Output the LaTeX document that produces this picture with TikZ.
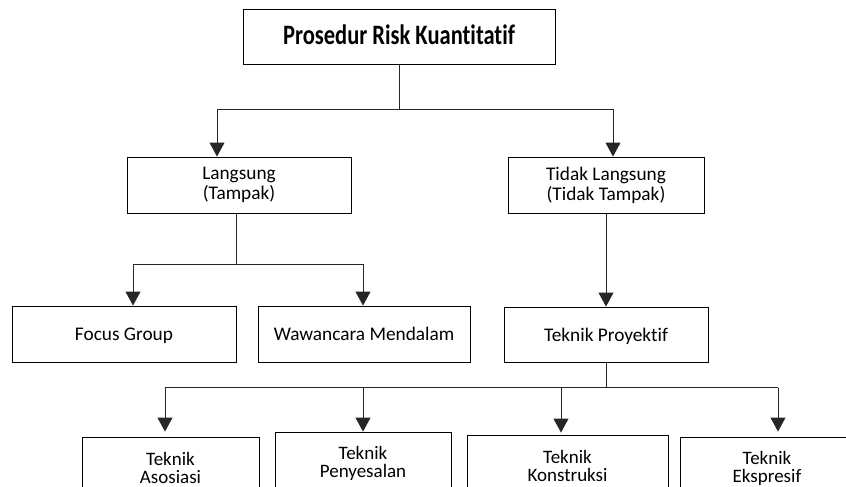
\documentclass[tikz,border=0pt]{standalone}
\usepackage{fontspec}
\setmainfont[Ligatures=NoCommon]{Carlito}
\usetikzlibrary{arrows.meta}

\newcommand{\tallbold}[1]{\scalebox{1}[1.25]{#1}}

\begin{document}
\begin{tikzpicture}[x=1pt,y=-1pt,
  box/.style={draw=black,line width=0.9pt,rectangle,inner sep=0pt,align=center,
    font=\fontsize{19.3}{20}\selectfont},
  oneline/.style={box,text height=13pt,text depth=0pt},
  lowbox/.style={box,font=\fontsize{19}{18}\selectfont},
  link/.style={draw=black!85,line width=0.9pt},
  arr/.style={link,-{Triangle[length=14pt,width=15pt]}},
]
\clip (0,0) rectangle (846,487);
\useasboundingbox (0,0) rectangle (846,487);

% level 0
\node[box,minimum width=312pt,minimum height=55pt,text height=17pt,text depth=0pt,
  font=\bfseries\fontsize{22.5}{24}\selectfont] (top) at (399,36.5) {\tallbold{Prosedur Risk Kuantitatif}};

% level 1
\node[box,minimum width=224pt,minimum height=56pt] (lang) at (239,185) {Langsung\\(Tampak)};
\node[box,minimum width=196pt,minimum height=56pt] (tidak) at (606,185) {Tidak Langsung\\(Tidak Tampak)};

% level 2
\node[oneline,minimum width=224pt,minimum height=56pt] (focus) at (124,334) {Focus Group};
\node[oneline,minimum width=212pt,minimum height=56pt] (wawan) at (364,334) {Wawancara Mendalam};
\node[oneline,minimum width=204pt,minimum height=55pt] (proy) at (606,334.5) {Teknik Proyektif};

% level 3
\node[lowbox,minimum width=177pt,minimum height=62pt] (aso) at (170.5,468) {Teknik\\Asosiasi};
\node[lowbox,minimum width=176pt,minimum height=62pt] (peny) at (363,463) {Teknik\\Penyesalan};
\node[lowbox,minimum width=201pt,minimum height=62pt] (kons) at (567.5,466) {Teknik\\Konstruksi};
\node[lowbox,minimum width=174pt,minimum height=62pt] (eksp) at (767,468) {Teknik\\Ekspresif};

% top split
\draw[link] (top.south) -- ++(0,45) coordinate (j0);
\coordinate (jL) at (217,109);
\coordinate (jR) at (613,109);
\draw[link] (jL) -- (jR);
\draw[arr] (jL) -- (jL |- lang.north);
\draw[arr] (jR) -- (jR |- tidak.north);

% direct branch
\coordinate (k0) at (236,264);
\coordinate (kL) at (133,264);
\coordinate (kR) at (363,264);
\draw[link] (k0 |- lang.south) -- (k0);
\draw[link] (kL) -- (kR);
\draw[arr] (kL) -- (kL |- focus.north);
\draw[arr] (kR) -- (kR |- wawan.north);

% indirect branch
\draw[arr] (tidak.south) -- (proy.north);
\draw[link] (proy.south) -- ++(0,25.5) coordinate (m0);
\coordinate (m1) at (165,387.5);
\coordinate (m2) at (363,387.5);
\coordinate (m3) at (561,387.5);
\coordinate (m4) at (778,387.5);
\draw[link] (m1) -- (m4);
\draw[arr,shorten >=5pt] (m1) -- (m1 |- aso.north);
\draw[arr] (m2) -- (m2 |- peny.north);
\draw[arr,shorten >=2pt] (m3) -- (m3 |- kons.north);
\draw[arr,shorten >=5pt] (m4) -- (m4 |- eksp.north);
\end{tikzpicture}
\end{document}
